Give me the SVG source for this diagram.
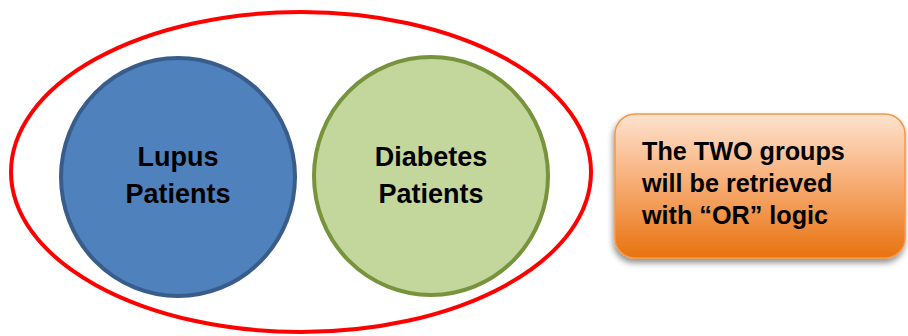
<svg xmlns="http://www.w3.org/2000/svg" width="908" height="336" viewBox="0 0 908 336">
  <defs>
    <linearGradient id="orangeFill" x1="0" y1="0" x2="0" y2="1">
      <stop offset="0" stop-color="#fde3cf"/>
      <stop offset="0.45" stop-color="#f8b07a"/>
      <stop offset="1" stop-color="#e8720f"/>
    </linearGradient>
    <filter id="dropShadow" x="-10%" y="-10%" width="125%" height="135%">
      <feGaussianBlur in="SourceAlpha" stdDeviation="3"/>
      <feOffset dx="-1" dy="4" result="blur"/>
      <feComponentTransfer><feFuncA type="linear" slope="0.45"/></feComponentTransfer>
      <feMerge><feMergeNode/><feMergeNode in="SourceGraphic"/></feMerge>
    </filter>
  </defs>
  <style>
    .label { font-family: "Liberation Sans", Arial, sans-serif; font-weight: bold; fill: #000; }
    .set { font-size: 27px; text-anchor: middle; }
    .note { font-size: 25.2px; }
  </style>

  <rect width="908" height="336" fill="#ffffff"/>

  <!-- enclosing "OR" boundary -->
  <g id="union">
    <ellipse cx="301" cy="172" rx="290" ry="160" fill="none" stroke="#ff0000" stroke-width="4"/>
  </g>

  <g id="lupus">
    <ellipse cx="178" cy="177" rx="117" ry="119" fill="#4f81bd" stroke="#385d8a" stroke-width="4"/>
    <text class="label set" x="178" y="166">Lupus</text>
    <text class="label set" x="178" y="203">Patients</text>
  </g>

  <g id="diabetes">
    <ellipse cx="431" cy="176" rx="117" ry="119" fill="#c3d69b" stroke="#77933c" stroke-width="4"/>
    <text class="label set" x="431" y="166">Diabetes</text>
    <text class="label set" x="431" y="203">Patients</text>
  </g>

  <g id="note">
    <rect x="615" y="114" width="290" height="144" rx="20" ry="20" fill="url(#orangeFill)" stroke="#f79646" stroke-width="1.5" filter="url(#dropShadow)"/>
    <text class="label note" x="642" y="160">The TWO groups</text>
    <text class="label note" x="642" y="192">will be retrieved</text>
    <text class="label note" x="642" y="224">with “OR” logic</text>
  </g>

  <g id="connectors"/>
</svg>
